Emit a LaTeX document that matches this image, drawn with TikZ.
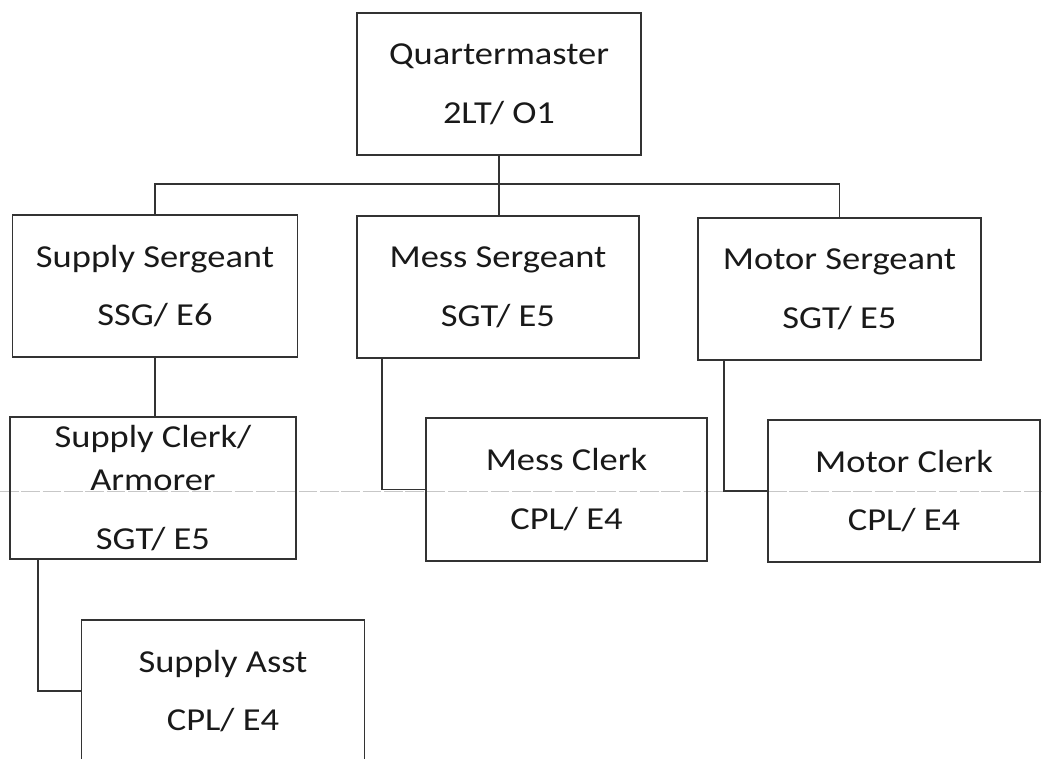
\documentclass[tikz,border=0pt]{standalone}
\usepackage{fontspec}
\setmainfont[FakeStretch=1.14]{Carlito}
\begin{document}
\begin{tikzpicture}[x=0.75pt,y=-0.75pt,
  wh/.style 2 args={minimum width={#1*0.75pt},minimum height={#2*0.75pt}},
  box/.style={draw=black!80,line width=1.3pt,rectangle,inner sep=0pt,align=center,
    text=black!90,font=\fontsize{24}{32}\selectfont},
  link/.style={draw=black!80,line width=1.3pt},
  scan/.style={draw=black!22,line width=0.7pt,dash pattern=on 14pt off 2pt}]
\clip (0,0) rectangle (1042,759);
\draw[scan] (0,491) -- (1042,491);
\node[box,wh={284}{142}] (qm) at (499,84) {Quartermaster\\[12pt]2LT/ O1};
\node[box,wh={285}{142}] (ss) at (155,286) {Supply Sergeant\\[12pt]SSG/ E6};
\node[box,wh={282}{142}] (ms) at (498,287) {Mess Sergeant\\[12pt]SGT/ E5};
\node[box,wh={283}{142}] (mos) at (839.5,289) {Motor Sergeant\\[12pt]SGT/ E5};
\node[box,wh={286}{142}] (sc) at (153,488) {Supply Clerk/\\Armorer\\[12pt]SGT/ E5};
\node[box,wh={281}{143}] (mc) at (566.5,489.5) {Mess Clerk\\[12pt]CPL/ E4};
\node[box,wh={272}{142}] (moc) at (904,491) {Motor Clerk\\[12pt]CPL/ E4};
\node[box,wh={283}{142}] (sa) at (223,691) {Supply Asst\\[12pt]CPL/ E4};
\coordinate (barL) at ([yshift=30*0.75pt]ss.north);
\draw[link] (qm.south) -- (qm.south |- ms.north);
\draw[link] (ss.north) -- (barL) -| (mos.north);
\draw[link] (ss.south) -- (ss.south |- sc.north);
\draw[link] ([xshift=26*0.75pt]ms.south west) |- (mc.west);
\draw[link] ([xshift=27*0.75pt]mos.south west) |- (moc.west);
\draw[link] ([xshift=29*0.75pt]sc.south west) |- (sa.west);
\end{tikzpicture}
\end{document}
